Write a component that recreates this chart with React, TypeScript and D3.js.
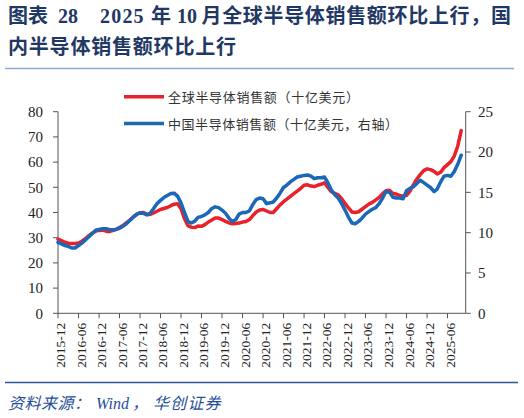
import React from 'react';
import * as d3 from 'd3';

// monthly, 2015-12 .. 2025-10
const months: Date[] = d3.timeMonth.range(new Date(2015, 11, 1), new Date(2025, 10, 1));

// global semiconductor sales, USD bn (left axis)
const globalSales = [
  29.4, 28.8, 28.2, 27.8, 27.7, 27.7, 27.9, 28.6, 29.6, 30.8, 31.8, 32.6,
  32.9, 33.0, 32.6, 32.4, 32.8, 33.3, 34.0, 34.8, 35.9, 37.0, 38.2, 39.2,
  39.9, 40.0, 39.3, 39.2, 39.8, 40.5, 41.2, 41.6, 42.0, 42.7, 43.3, 43.5,
  41.5, 37.5, 34.8, 34.2, 34.0, 34.6, 34.5, 35.2, 36.2, 37.0, 37.8, 37.8,
  37.2, 36.5, 35.9, 35.5, 35.6, 35.8, 36.2, 36.4, 37.2, 38.8, 40.2, 41.0,
  41.2, 40.6, 40.0, 40.0, 41.5, 43.0, 44.3, 45.3, 46.4, 47.5, 48.5, 49.6,
  50.8, 51.0, 50.5, 50.3, 50.8, 51.2, 51.8, 50.0, 48.3, 47.6, 47.0, 45.5,
  43.6, 41.8, 40.2, 40.0, 40.3, 41.3, 42.3, 43.3, 44.0, 45.0, 46.0, 47.5,
  48.6, 48.8, 47.5, 47.3, 46.8, 46.5, 46.8, 48.5, 51.0, 53.3, 55.0, 56.6,
  57.3, 57.0, 56.3, 55.3, 56.0, 57.8, 59.0, 60.2, 62.5, 66.5, 72.5,
];

// China semiconductor sales, USD bn (right axis)
const chinaSales = [
  8.8, 8.6, 8.4, 8.3, 8.1, 8.1, 8.4, 8.7, 9.1, 9.5, 9.9, 10.3,
  10.4, 10.5, 10.5, 10.4, 10.35, 10.4, 10.55, 10.8, 11.1, 11.5, 11.9, 12.3,
  12.45, 12.4, 12.2, 12.4, 13.0, 13.6, 14.0, 14.35, 14.6, 14.85, 14.9, 14.5,
  13.7, 12.5, 11.4, 11.2, 11.4, 11.9, 12.0, 12.2, 12.5, 13.0, 13.2, 13.1,
  12.8, 12.4, 11.8, 11.4, 11.6, 12.3, 12.5, 12.5, 12.7, 13.5, 14.1, 14.3,
  14.2, 13.6, 13.7, 13.8, 14.3, 14.9, 15.6, 15.9, 16.3, 16.6, 16.9, 17.0,
  17.1, 17.15, 17.0, 16.7, 16.8, 16.8, 16.9, 16.2, 15.3, 14.7, 14.3, 13.6,
  12.8, 11.9, 11.2, 11.1, 11.4, 11.8, 12.3, 12.6, 12.9, 13.1, 13.6, 14.3,
  15.1, 15.0, 14.4, 14.3, 14.3, 14.2, 15.2, 15.5, 15.7, 16.1, 16.5, 16.2,
  15.9, 15.6, 15.1, 15.4, 16.3, 17.0, 17.1, 17.0, 17.6, 18.5, 19.6,
];

const xTickLabels = [
  '2015-12', '2016-06', '2016-12', '2017-06', '2017-12', '2018-06', '2018-12',
  '2019-06', '2019-12', '2020-06', '2020-12', '2021-06', '2021-12', '2022-06',
  '2022-12', '2023-06', '2023-12', '2024-06', '2024-12', '2025-06',
];
const leftTicks = [0, 10, 20, 30, 40, 50, 60, 70, 80];
const rightTicks = [0, 5, 10, 15, 20, 25];

const seriesNames = ['全球半导体销售额（十亿美元）', '中国半导体销售额（十亿美元，右轴）'];

const RED = '#e8212b';
const BLUE = '#1b67b8';
const NAVY = '#1f3864';
const serif = '"Liberation Serif", "Noto Sans CJK SC", serif';
const cjk = '"Noto Sans CJK SC", sans-serif';

const App: React.FC = () => {
  const left = 58, right = 465.7, top = 111.7, bottom = 313.3;

  const parse = d3.timeParse('%Y-%m');
  const x = d3.scaleTime()
    .domain([months[0], new Date(2025, 10, 10)])
    .range([left, right]);
  const yL = d3.scaleLinear().domain([0, 80]).range([bottom, top]);
  const yR = d3.scaleLinear().domain([0, 25]).range([bottom, top]);

  const lineL = d3.line<number>().x((_, i) => x(months[i])).y(d => yL(d));
  const lineR = d3.line<number>().x((_, i) => x(months[i])).y(d => yR(d));

  const axisColor = '#555';
  const labelColor = '#222';

  return (
    <svg width={524} height={418} style={{ position: 'absolute', left: 0, top: 0, background: '#fff' }}>
      {/* title */}
      <g fill={NAVY} fontWeight="bold" fontSize={20}>
        <text y={23} fontFamily={cjk}>
          <tspan x={8}>图表</tspan>
          <tspan x={58} fontFamily={serif}>28</tspan>
          <tspan x={100} fontFamily={serif} letterSpacing={1.2}>2025</tspan>
          <tspan x={151}>年</tspan>
          <tspan x={177} fontFamily={serif}>10</tspan>
          <tspan x={201.5} letterSpacing={0.67}>月全球半导体销售额环比上行，国</tspan>
        </text>
        <text x={8} y={54} fontFamily={cjk} letterSpacing={0.8}>内半导体销售额环比上行</text>
      </g>
      <line x1={5} x2={514} y1={68.5} y2={68.5} stroke="#8eaacf" strokeWidth={1.5} />

      {/* legend */}
      <g fontFamily={cjk} fontSize={13} fill="#333">
        <line x1={124} x2={164} y1={96.7} y2={96.7} stroke={RED} strokeWidth={3.5} />
        <text x={168} y={102} textLength={191} lengthAdjust="spacing">{seriesNames[0]}</text>
        <line x1={124} x2={164} y1={123.5} y2={123.5} stroke={BLUE} strokeWidth={3.5} />
        <text x={168} y={129} textLength={230} lengthAdjust="spacing">{seriesNames[1]}</text>
      </g>

      {/* left axis */}
      <line x1={left} x2={left} y1={top} y2={bottom} stroke={axisColor} />
      {leftTicks.map(t => (
        <g key={'l' + t}>
          <line x1={left - 5} x2={left} y1={yL(t)} y2={yL(t)} stroke={axisColor} />
          <text x={43} y={yL(t)} dy="0.35em" textAnchor="end" fontFamily={serif} fontSize={15} fill={labelColor}>{t}</text>
        </g>
      ))}

      {/* right axis */}
      <line x1={right} x2={right} y1={top} y2={bottom} stroke={axisColor} />
      {rightTicks.map(t => (
        <g key={'r' + t}>
          <line x1={right} x2={right + 5} y1={yR(t)} y2={yR(t)} stroke={axisColor} />
          <text x={478} y={yR(t)} dy="0.35em" fontFamily={serif} fontSize={15} fill={labelColor}>{t}</text>
        </g>
      ))}

      {/* bottom axis */}
      <line x1={left} x2={right} y1={bottom} y2={bottom} stroke={axisColor} />
      {xTickLabels.map(lbl => {
        const xp = x(parse(lbl) as Date);
        return (
          <g key={lbl}>
            <line x1={xp} x2={xp} y1={bottom} y2={bottom + 5} stroke={axisColor} />
            <text transform={`translate(${xp + 7},${bottom + 9.5}) rotate(-90)`} textAnchor="end"
              fontFamily={serif} fontSize={13.5} fill={labelColor}>{lbl}</text>
          </g>
        );
      })}

      {/* series */}
      <path d={lineL(globalSales) || ''} fill="none" stroke={RED} strokeWidth={3.5} strokeLinejoin="round" strokeLinecap="round" />
      <path d={lineR(chinaSales) || ''} fill="none" stroke={BLUE} strokeWidth={3.5} strokeLinejoin="round" strokeLinecap="round" />

      {/* footer */}
      <line x1={5} x2={518} y1={382.5} y2={382.5} stroke="#2f5597" strokeWidth={1.5} />
      <text y={409} fontFamily={cjk} fontStyle="italic" fontSize={16} fill="#1f4e9a">
        <tspan x={8} letterSpacing={0.5}>资料来源：</tspan>
        <tspan x={96} fontFamily={serif}>Wind</tspan>
        <tspan x={132}>，</tspan>
        <tspan x={153} letterSpacing={1.2}>华创证券</tspan>
      </text>
    </svg>
  );
};

export default App;
